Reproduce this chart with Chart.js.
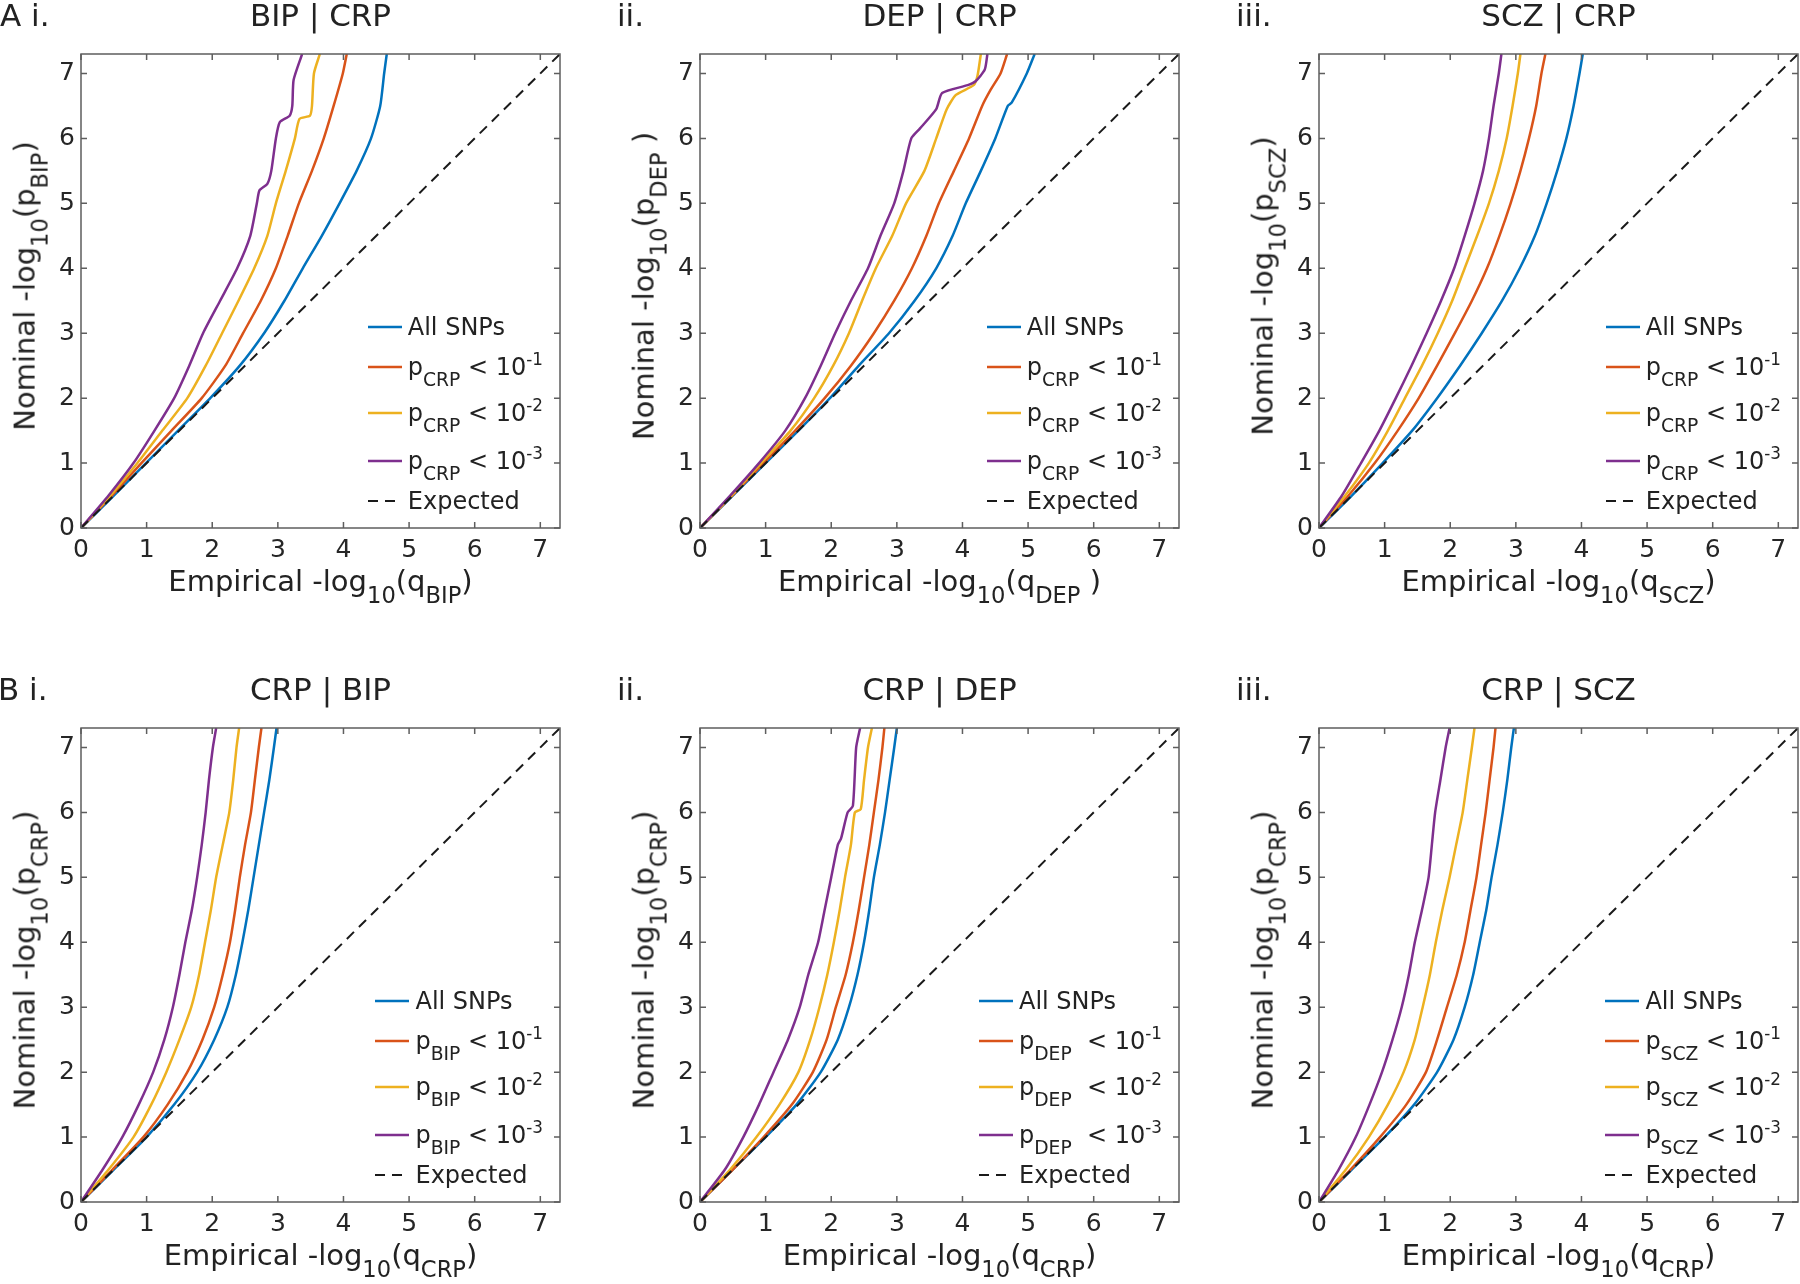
<!DOCTYPE html>
<html>
<head>
<meta charset="utf-8">
<script src="https://cdn.jsdelivr.net/npm/chart.js@4.4.0/dist/chart.umd.min.js"></script>
<style>
  body { margin: 0; width: 1800px; height: 1284px; overflow: hidden; position: relative; background: #fff;
         font-family: "DejaVu Sans", sans-serif; color: #222; }
  canvas { position: absolute; }
  .t { position: absolute; white-space: nowrap; line-height: 1.2; }
  .sb { font-size: .78em; position: relative; top: .56em; line-height: 0; }
  .sp { font-size: .7em; position: relative; top: -.6em; line-height: 0; }
</style>
</head>
<body>
<script>
// -log10 values; y is the nominal axis, x the empirical one
const yGrid = [0, 0.5, 1, 1.5, 2, 2.5, 3, 3.5, 4, 4.5, 5, 5.5, 6, 6.5, 7, 7.3];
const expectedXY = [0, 7.3];

// A i. BIP | CRP
const aiAllX = [0, 0.5, 0.99, 1.48, 1.97, 2.42, 2.79, 3.1, 3.38, 3.67, 3.94, 4.2, 4.42, 4.56, 4.62, 4.66];
const aiP1X = [0, 0.47, 0.92, 1.38, 1.84, 2.2, 2.47, 2.74, 2.97, 3.15, 3.32, 3.52, 3.7, 3.85, 3.99, 4.05];
const aiP2Y = [0, 0.5, 1, 1.5, 2, 2.5, 3, 3.5, 4, 4.5, 5, 5.5, 6, 6.3, 6.35, 6.5, 7, 7.3];
const aiP2X = [0, 0.45, 0.86, 1.24, 1.62, 1.9, 2.15, 2.4, 2.64, 2.84, 2.97, 3.12, 3.26, 3.33, 3.49, 3.52, 3.55, 3.64];
const aiP3Y = [0, 0.5, 1, 1.5, 2, 2.5, 3, 3.5, 4, 4.5, 5, 5.2, 5.3, 5.5, 6, 6.25, 6.35, 6.5, 6.9, 7.3];
const aiP3X = [0, 0.42, 0.8, 1.12, 1.42, 1.65, 1.86, 2.12, 2.38, 2.58, 2.68, 2.72, 2.84, 2.9, 2.97, 3.03, 3.18, 3.22, 3.24, 3.37];

// A ii. DEP | CRP
const aiiAllY = [0, 0.5, 1, 1.5, 2, 2.5, 3, 3.5, 4, 4.5, 5, 5.5, 6, 6.5, 6.55, 7, 7.3];
const aiiAllX = [0, 0.5, 1.0, 1.5, 1.98, 2.42, 2.88, 3.27, 3.6, 3.85, 4.05, 4.28, 4.5, 4.69, 4.75, 4.98, 5.1];
const aiiP1Y = [0, 0.5, 1, 1.5, 2, 2.5, 3, 3.5, 4, 4.5, 5, 5.5, 6, 6.5, 6.75, 7, 7.3];
const aiiP1X = [0, 0.49, 0.97, 1.45, 1.9, 2.3, 2.65, 2.96, 3.23, 3.45, 3.64, 3.87, 4.1, 4.3, 4.43, 4.58, 4.68];
const aiiP2Y = [0, 0.5, 1, 1.5, 2, 2.5, 3, 3.5, 4, 4.5, 5, 5.5, 6, 6.45, 6.67, 6.82, 6.97, 7.3];
const aiiP2X = [0, 0.48, 0.93, 1.38, 1.74, 2.03, 2.27, 2.47, 2.68, 2.93, 3.14, 3.42, 3.6, 3.76, 3.9, 4.17, 4.23, 4.28];
const aiiP3Y = [0, 0.5, 1, 1.5, 2, 2.5, 3, 3.5, 4, 4.5, 5, 5.5, 6, 6.15, 6.45, 6.7, 6.82, 6.88, 7.06, 7.3];
const aiiP3X = [0, 0.46, 0.9, 1.3, 1.6, 1.84, 2.06, 2.3, 2.56, 2.75, 2.96, 3.1, 3.22, 3.35, 3.6, 3.69, 4.08, 4.2, 4.34, 4.38];

// A iii. SCZ | CRP
const aiiiAllX = [0, 0.5, 0.97, 1.42, 1.8, 2.15, 2.48, 2.79, 3.06, 3.29, 3.47, 3.63, 3.77, 3.88, 3.97, 4.02];
const aiiiP1X = [0, 0.45, 0.85, 1.2, 1.52, 1.8, 2.07, 2.33, 2.56, 2.75, 2.92, 3.07, 3.2, 3.31, 3.39, 3.45];
const aiiiP2X = [0, 0.4, 0.76, 1.05, 1.31, 1.57, 1.81, 2.03, 2.22, 2.41, 2.59, 2.74, 2.86, 2.95, 3.03, 3.07];
const aiiiP3X = [0, 0.35, 0.64, 0.92, 1.17, 1.41, 1.64, 1.86, 2.06, 2.22, 2.37, 2.5, 2.59, 2.66, 2.74, 2.78];

// B i. CRP | BIP
const biAllX = [0, 0.5, 1.0, 1.42, 1.77, 2.03, 2.23, 2.36, 2.46, 2.55, 2.63, 2.71, 2.79, 2.87, 2.94, 2.98];
const biP1X = [0, 0.48, 0.95, 1.32, 1.62, 1.85, 2.03, 2.16, 2.27, 2.35, 2.42, 2.5, 2.59, 2.65, 2.71, 2.75];
const biP2X = [0, 0.42, 0.8, 1.07, 1.3, 1.5, 1.68, 1.8, 1.89, 1.98, 2.06, 2.16, 2.26, 2.32, 2.37, 2.41];
const biP3X = [0, 0.33, 0.63, 0.88, 1.1, 1.27, 1.4, 1.5, 1.59, 1.69, 1.77, 1.84, 1.9, 1.95, 2.01, 2.06];

// B ii. CRP | DEP
const biiAllX = [0, 0.5, 1.0, 1.47, 1.84, 2.1, 2.27, 2.4, 2.5, 2.58, 2.65, 2.74, 2.82, 2.89, 2.96, 3.0];
const biiP1X = [0, 0.5, 0.97, 1.4, 1.72, 1.93, 2.07, 2.22, 2.33, 2.42, 2.5, 2.58, 2.65, 2.72, 2.78, 2.81];
const biiP2Y = [0, 0.5, 1, 1.5, 2, 2.5, 3, 3.5, 4, 4.5, 5, 5.5, 6, 6.05, 6.5, 7, 7.3];
const biiP2X = [0, 0.46, 0.86, 1.21, 1.5, 1.68, 1.82, 1.94, 2.04, 2.13, 2.21, 2.3, 2.36, 2.45, 2.5, 2.56, 2.62];
const biiP3Y = [0, 0.5, 1, 1.5, 2, 2.5, 3, 3.5, 4, 4.5, 5, 5.5, 5.6, 6, 6.1, 7, 7.3];
const biiP3X = [0, 0.38, 0.66, 0.9, 1.12, 1.34, 1.52, 1.65, 1.8, 1.9, 2.0, 2.1, 2.15, 2.25, 2.33, 2.38, 2.44];

// B iii. CRP | SCZ
const biiiAllX = [0, 0.5, 1.0, 1.45, 1.8, 2.05, 2.22, 2.35, 2.45, 2.55, 2.63, 2.72, 2.8, 2.87, 2.93, 2.97];
const biiiP1X = [0, 0.48, 0.93, 1.33, 1.63, 1.8, 1.95, 2.1, 2.22, 2.31, 2.4, 2.47, 2.54, 2.6, 2.66, 2.69];
const biiiP2X = [0, 0.41, 0.76, 1.05, 1.29, 1.46, 1.58, 1.69, 1.78, 1.88, 1.99, 2.09, 2.19, 2.26, 2.33, 2.37];
const biiiP3X = [0, 0.3, 0.56, 0.77, 0.96, 1.12, 1.26, 1.37, 1.46, 1.57, 1.67, 1.72, 1.77, 1.85, 1.93, 1.99];

const seriesColors = ['#0072BD', '#D95319', '#EDB120', '#7E2F8E'];
const levelLabels = ['-1', '-2', '-3'];

const sb = s => `<span class="sb">${s}</span>`;
const sp = s => `<span class="sp">${s}</span>`;

// layout (pixels) of each axes box
const PW = 479, PH = 485;
const TITLE_PX = 31, LABEL_PX = 29, LEGEND_PX = 24, TICK_PX = 25;
const panels = [
  { left: 81, top: 43, tag: 'A i.', tagX: 0, title: 'BIP | CRP', trait: 'BIP', cond: 'CRP', pad: '',
    series: [[aiAllX, yGrid], [aiP1X, yGrid], [aiP2X, aiP2Y], [aiP3X, aiP3Y]] },
  { left: 700, top: 43, tag: 'ii.', tagX: 617, title: 'DEP | CRP', trait: 'DEP', cond: 'CRP', pad: '', axPad: ' ',
    series: [[aiiAllX, aiiAllY], [aiiP1X, aiiP1Y], [aiiP2X, aiiP2Y], [aiiP3X, aiiP3Y]] },
  { left: 1319, top: 43, tag: 'iii.', tagX: 1236, title: 'SCZ | CRP', trait: 'SCZ', cond: 'CRP', pad: '',
    series: [[aiiiAllX, yGrid], [aiiiP1X, yGrid], [aiiiP2X, yGrid], [aiiiP3X, yGrid]] },
  { left: 81, top: 717, tag: 'B i.', tagX: -2, title: 'CRP | BIP', trait: 'CRP', cond: 'BIP', pad: '',
    series: [[biAllX, yGrid], [biP1X, yGrid], [biP2X, yGrid], [biP3X, yGrid]] },
  { left: 700, top: 717, tag: 'ii.', tagX: 617, title: 'CRP | DEP', trait: 'CRP', cond: 'DEP', pad: '&nbsp; ',
    series: [[biiAllX, yGrid], [biiP1X, yGrid], [biiP2X, biiP2Y], [biiP3X, biiP3Y]] },
  { left: 1319, top: 717, tag: 'iii.', tagX: 1236, title: 'CRP | SCZ', trait: 'CRP', cond: 'SCZ', pad: '',
    series: [[biiiAllX, yGrid], [biiiP1X, yGrid], [biiiP2X, yGrid], [biiiP3X, yGrid]] }
];

const boxPlugin = {
  id: 'matlabBox',
  afterDatasetsDraw(chart) {
    const { ctx, chartArea: a, scales: { x, y } } = chart;
    ctx.save();
    ctx.strokeStyle = '#5e5e5e';
    ctx.lineWidth = 1.5;
    ctx.beginPath();
    x.ticks.forEach(t => {
      const px = x.getPixelForValue(t.value);
      ctx.moveTo(px, a.bottom); ctx.lineTo(px, a.bottom - 6);
      ctx.moveTo(px, a.top); ctx.lineTo(px, a.top + 6);
    });
    y.ticks.forEach(t => {
      const py = y.getPixelForValue(t.value);
      ctx.moveTo(a.left, py); ctx.lineTo(a.left + 6, py);
      ctx.moveTo(a.right, py); ctx.lineTo(a.right - 6, py);
    });
    ctx.stroke();
    ctx.strokeRect(a.left, a.top, a.right - a.left, a.bottom - a.top);
    ctx.restore();
  }
};

function addText(html, x, baseline, size, align) {
  const d = document.createElement('div');
  d.className = 't';
  d.innerHTML = html;
  d.style.fontSize = size + 'px';
  d.style.left = x + 'px';
  d.style.top = (baseline - 0.946 * size) + 'px';
  if (align === 'center') d.style.transform = 'translateX(-50%)';
  document.body.appendChild(d);
  return d;
}

function axisOpts(ticksPad) {
  return {
    type: 'linear', min: 0, max: 7.3,
    grid: { display: false, drawTicks: false },
    border: { display: false },
    ticks: { stepSize: 1, includeBounds: false, padding: ticksPad, color: '#262626',
             font: { family: 'DejaVu Sans', size: TICK_PX } }
  };
}

function makePanel(p) {
  const cv = document.createElement('canvas');
  const W = PW + 75, H = PH + 50;
  cv.width = W; cv.height = H;
  cv.style.width = W + 'px'; cv.style.height = H + 'px';
  cv.style.left = (p.left - 60) + 'px';
  cv.style.top = (p.top - 10) + 'px';
  document.body.appendChild(cv);

  const datasets = [{
    label: 'Expected',
    data: expectedXY.map(v => ({ x: v, y: v })),
    borderColor: '#1a1a1a', borderWidth: 2, borderDash: [10, 7], order: 0
  }];
  p.series.forEach(([xs, ys], i) => {
    datasets.push({
      label: i === 0 ? 'All SNPs' : 'p ' + p.cond + ' < 10^' + levelLabels[i - 1],
      data: xs.map((v, k) => ({ x: v, y: ys[k] })),
      borderColor: seriesColors[i], borderWidth: 2.5, tension: 0.2, order: 5 - i
    });
  });

  const xo = axisOpts(7), yo = axisOpts(6);
  xo.afterFit = s => { s.height = 40; };
  yo.afterFit = s => { s.width = 60; };

  new Chart(cv, {
    type: 'scatter',
    data: { datasets },
    options: {
      responsive: false, animation: false, devicePixelRatio: 1,
      showLine: true,
      elements: { point: { radius: 0, hoverRadius: 0 } },
      layout: { padding: { top: 10, right: 15, left: 0, bottom: 0 } },
      scales: { x: xo, y: yo },
      plugins: { legend: { display: false }, tooltip: { enabled: false } }
    },
    plugins: [boxPlugin]
  });

  const cx = p.left + PW / 2, bottom = p.top + PH;
  const titleBase = p.top - 17;
  addText(p.tag, p.tagX, titleBase, TITLE_PX);
  addText(p.title, cx, titleBase, TITLE_PX, 'center');

  const ap = p.axPad || '';
  addText('Empirical -log' + sb('10') + '(q' + sb(p.trait) + ap + ')', cx, bottom + 63, LABEL_PX, 'center');

  const yl = document.createElement('div');
  yl.className = 't';
  yl.innerHTML = 'Nominal -log' + sb('10') + '(p' + sb(p.trait) + ap + ')';
  yl.style.fontSize = LABEL_PX + 'px';
  yl.style.left = (p.left - 46 - 0.346 * LABEL_PX) + 'px';
  yl.style.top = (p.top + PH / 2) + 'px';
  yl.style.transform = 'translate(-50%,-50%) rotate(-90deg)';
  document.body.appendChild(yl);

  // legend, right aligned inside the box like MATLAB 'southeast'
  const rows = [
    { html: 'All SNPs', color: seriesColors[0], dy: -201 },
    { html: 'p' + sb(p.cond) + p.pad + ' &lt; 10' + sp(levelLabels[0]), color: seriesColors[1], dy: -161 },
    { html: 'p' + sb(p.cond) + p.pad + ' &lt; 10' + sp(levelLabels[1]), color: seriesColors[2], dy: -115 },
    { html: 'p' + sb(p.cond) + p.pad + ' &lt; 10' + sp(levelLabels[2]), color: seriesColors[3], dy: -67 },
    { html: 'Expected', color: '#1a1a1a', dy: -27, dash: true }
  ];
  const els = rows.map(r => addText(r.html, 0, bottom + r.dy + 9, LEGEND_PX));
  const maxW = Math.max(...els.map(e => e.getBoundingClientRect().width));
  const textLeft = p.left + PW - 17 - maxW;
  rows.forEach((r, i) => {
    els[i].style.left = textLeft + 'px';
    const svg = document.createElementNS('http://www.w3.org/2000/svg', 'svg');
    svg.setAttribute('width', 36); svg.setAttribute('height', 6);
    svg.style.position = 'absolute';
    svg.style.left = (textLeft - 41) + 'px';
    svg.style.top = (bottom + r.dy - 3) + 'px';
    const ln = document.createElementNS('http://www.w3.org/2000/svg', 'line');
    ln.setAttribute('x1', 1); ln.setAttribute('x2', 35);
    ln.setAttribute('y1', 3); ln.setAttribute('y2', 3);
    ln.setAttribute('stroke', r.color);
    ln.setAttribute('stroke-width', r.dash ? 2 : 2.5);
    if (r.dash) ln.setAttribute('stroke-dasharray', '10 7');
    svg.appendChild(ln);
    document.body.appendChild(svg);
  });
}

panels.forEach(makePanel);
</script>
</body>
</html>
